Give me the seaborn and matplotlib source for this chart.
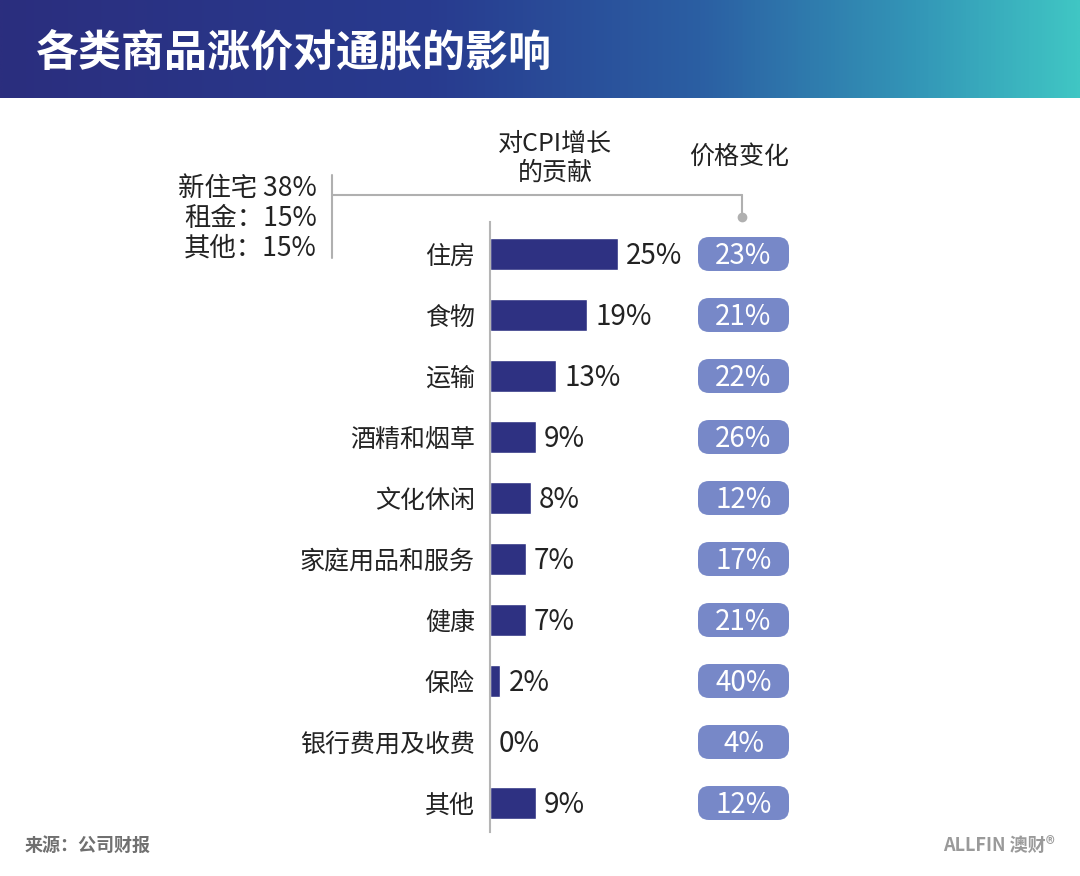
import numpy as np
import matplotlib
matplotlib.use("Agg")
import matplotlib.pyplot as plt
from matplotlib.patches import FancyBboxPatch
from matplotlib.lines import Line2D
from matplotlib.colors import LinearSegmentedColormap
import seaborn as sns
import pandas as pd

# ---- data ----
categories = ["住房", "食物", "运输", "酒精和烟草", "文化休闲", "家庭用品和服务",
              "健康", "保险", "银行费用及收费", "其他"]
cpi_contribution = [25, 19, 13, 9, 8, 7, 7, 2, 0, 9]
price_change = [23, 21, 22, 26, 12, 17, 21, 40, 4, 12]
housing_breakdown = ["新住宅 38%", "租金：15%", "其他：15%"]
title = "各类商品涨价对通胀的影响"
col_header_1 = "对CPI增长\n的贡献"
col_header_2 = "价格变化"
source = "来源：公司财报"
brand = "ALLFIN 澳财®"

sns.set_theme(style="white")
plt.rcParams['font.family'] = ['Noto Sans CJK SC', 'DejaVu Sans']

W, H = 1080, 876
fig = plt.figure(figsize=(W / 100, H / 100), dpi=100)
fig.patch.set_facecolor("white")

def fx(px):
    return px / W

def fy(py):
    return 1 - py / H

# ---- header gradient ----
hax = fig.add_axes([0, fy(98), 1, 98 / H])
cmap = LinearSegmentedColormap.from_list(
    "hdr", [(0, "#2b2e7e"), (0.4, "#283b8f"), (0.65, "#2b5fa3"),
            (0.85, "#3396b7"), (1.0, "#40c6c4")])
grad = np.linspace(0, 1, 512).reshape(1, -1)
hax.imshow(grad, aspect="auto", cmap=cmap, extent=[0, 1, 0, 1])
hax.set_axis_off()
fig.text(fx(36), fy(52), title, color="white", fontsize=31, fontweight="heavy",
         ha="left", va="center")

# ---- main axes ----
px_per_unit = 5.1
ax_left, ax_right = 490, 1080
ax_top, ax_bot = 222, 832
ax = fig.add_axes([fx(ax_left), fy(ax_bot), (ax_right - ax_left) / W, (ax_bot - ax_top) / H])
ax.patch.set_alpha(0)

df = pd.DataFrame({"category": categories, "value": cpi_contribution})
sns.barplot(data=df, x="value", y="category", orient="h", color="#2e3182",
            width=0.52, ax=ax, saturation=1)
ax.set_xlim(0, (ax_right - ax_left) / px_per_unit)
row_px = 61.0
ax.set_ylim(9 + (ax_bot - 803) / row_px, -(254 - ax_top) / row_px)

for s in ["top", "right", "bottom"]:
    ax.spines[s].set_visible(False)
ax.spines["left"].set_color("#b5b5b5")
ax.spines["left"].set_linewidth(1.5)
ax.set_xticks([])
ax.set_xlabel("")
ax.set_ylabel("")
ax.tick_params(axis="y", length=0, pad=11)
ax.set_yticks(range(len(categories)))
ax.set_yticklabels(categories, fontsize=18, color="#222222")

for i, v in enumerate(cpi_contribution):
    ax.text(v + 1.6, i + 0.03, f"{v}%", va="center", ha="left", fontsize=20, color="#222222")

# pills
pill_l = (698 - ax_left) / px_per_unit
pill_r = (789 - ax_left) / px_per_unit
pill_h = 34 / row_px
r_px = 11
for i, v in enumerate(price_change):
    p = FancyBboxPatch((pill_l, i - pill_h / 2), pill_r - pill_l, pill_h,
                       boxstyle=f"round,pad=0,rounding_size={r_px / px_per_unit}",
                       mutation_aspect=(px_per_unit / row_px),
                       facecolor="#7788c8", edgecolor="none", clip_on=False)
    ax.add_patch(p)
    ax.text((pill_l + pill_r) / 2, i + 0.03, f"{v}%", ha="center", va="center",
            fontsize=20, color="white")

# ---- column headers ----
fig.text(fx(555), fy(158), col_header_1, ha="center", va="center", fontsize=18,
         color="#222222", linespacing=1.15)
fig.text(fx(739), fy(157), col_header_2, ha="center", va="center", fontsize=18,
         color="#222222")

# ---- housing breakdown bracket ----
for k, t in enumerate(housing_breakdown):
    fig.text(fx(317), fy(188 + k * 30), t, ha="right", va="center", fontsize=19,
             color="#222222")
lc = "#b0b0b0"
fig.add_artist(Line2D([fx(332), fx(332)], [fy(175), fy(258)], color=lc, lw=1.5))
fig.add_artist(Line2D([fx(332), fx(742)], [fy(195), fy(195)], color=lc, lw=1.5))
fig.add_artist(Line2D([fx(742), fx(742)], [fy(195), fy(214)], color=lc, lw=1.5))
fig.add_artist(Line2D([fx(742)], [fy(217)], marker="o", markersize=6,
                      color=lc, lw=0))

# ---- footer ----
fig.text(fx(25), fy(845), source, ha="left", va="center", fontsize=13,
         fontweight="bold", color="#707070")
fig.text(fx(1055), fy(845), brand, ha="right", va="center", fontsize=13,
         fontweight="bold", color="#9a9a9a")

fig.savefig("out.png", dpi=100, facecolor="white")
